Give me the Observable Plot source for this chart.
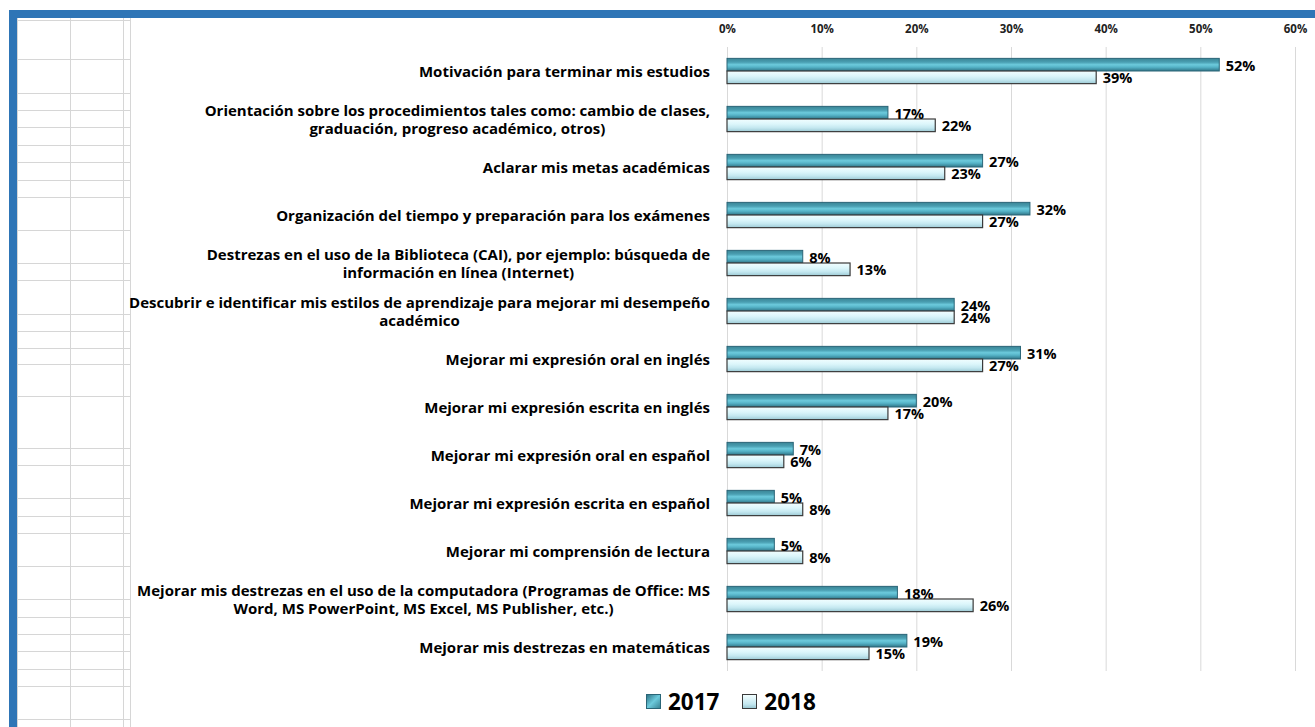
<!DOCTYPE html>
<html>
<head>
<meta charset="utf-8">
<script src="https://cdn.jsdelivr.net/npm/d3@7"></script>
<script src="https://cdn.jsdelivr.net/npm/@observablehq/plot@0.6"></script>
<style>
  html, body { margin: 0; padding: 0; background: #fff; }
  body { width: 1315px; height: 727px; position: relative; overflow: hidden; font-family: "Open Sans", Lato, sans-serif; }
  #chart { position: absolute; left: 0; top: 0; }
  .frame { position: absolute; background: #2e75b6; z-index: 5; }
  .gl { position: absolute; background: #d6d6d6; }
  .ylab { position: absolute; left: 0; width: 710px; text-align: right; font-weight: 700; font-size: 15px; line-height: 18px; color: #000; transform: translateY(-50%); }
  .ylab span { display: inline-block; text-align: center; white-space: pre; }
  #legend { position: absolute; top: 685px; left: 646px; font-weight: 700; font-size: 22.5px; color: #000; white-space: nowrap; }
  #legend .item { display: inline-flex; align-items: center; margin-right: 17px; }
  #legend .sw { width: 15px; height: 15px; margin-right: 7px; box-sizing: border-box; }
</style>
</head>
<body>
<div id="deco"></div>
<div id="chart"></div>
<div id="labels"></div>
<div id="legend"></div>
<script>
const categories = [
  "Motivación para terminar mis estudios",
  "Orientación sobre los procedimientos tales como: cambio de clases,\ngraduación, progreso académico, otros)",
  "Aclarar mis metas académicas",
  "Organización del tiempo y preparación para los exámenes",
  "Destrezas en el uso de la Biblioteca (CAI), por ejemplo: búsqueda de\ninformación en línea (Internet)",
  "Descubrir e identificar mis estilos de aprendizaje para mejorar mi desempeño\nacadémico",
  "Mejorar mi expresión oral en inglés",
  "Mejorar mi expresión escrita en inglés",
  "Mejorar mi expresión oral en español",
  "Mejorar mi expresión escrita en español",
  "Mejorar mi comprensión de lectura",
  "Mejorar mis destrezas en el uso de la computadora (Programas de Office: MS\nWord, MS PowerPoint, MS Excel, MS Publisher, etc.)",
  "Mejorar mis destrezas en matemáticas"
];
const years = ["2017", "2018"];
const values2017 = [52, 17, 27, 32, 8, 24, 31, 20, 7, 5, 5, 18, 19];
const values2018 = [39, 22, 23, 27, 13, 24, 27, 17, 6, 8, 8, 26, 15];
const tickValues = [0, 0.1, 0.2, 0.3, 0.4, 0.5, 0.6];

const data = categories.flatMap((c, i) => [
  {cat: c, year: years[0], value: values2017[i] / 100},
  {cat: c, year: years[1], value: values2018[i] / 100}
]);

// decorative frame & spreadsheet grid
const deco = document.getElementById("deco");
function addDiv(cls, l, t, w, h) {
  const d = document.createElement("div");
  d.className = cls;
  Object.assign(d.style, {left: l + "px", top: t + "px", width: w + "px", height: h + "px"});
  deco.appendChild(d);
}
addDiv("frame", 9, 10, 1306, 8);
addDiv("frame", 9, 10, 8, 717);
[17, 70, 123, 130].forEach(x => addDiv("gl", x, 18, 1, 709));
[20, 59, 93, 110, 127, 145, 162, 180, 197, 230, 263, 280, 314, 331, 348, 364, 396, 448, 465, 498, 516, 533, 566, 599, 617, 634, 651, 669, 686, 719]
  .forEach(y => addDiv("gl", 17, y, 114, 1));

const defs = () => {
  const d = d3.create("svg:defs");
  const g1 = d.append("linearGradient").attr("id", "g17").attr("x1", 0).attr("y1", 0).attr("x2", 0).attr("y2", 1);
  [[0, "#3a8596"], [0.3, "#4a9fb2"], [0.5, "#6ccadc"], [0.7, "#55b3c7"], [1, "#2f7587"]]
    .forEach(([o, c]) => g1.append("stop").attr("offset", o).attr("stop-color", c));
  const g2 = d.append("linearGradient").attr("id", "g18").attr("x1", 0).attr("y1", 0).attr("x2", 0).attr("y2", 1);
  [[0, "#f2feff"], [0.4, "#dcf6fb"], [0.7, "#c4e8f0"], [1, "#9cc9d4"]]
    .forEach(([o, c]) => g2.append("stop").attr("offset", o).attr("stop-color", c));
  return d.node();
};

const chart = Plot.plot({
  width: 1315,
  height: 683,
  marginLeft: 727,
  marginRight: 20,
  marginTop: 47,
  marginBottom: 12,
  style: {background: "transparent", fontFamily: "'Open Sans', Lato, sans-serif"},
  x: {domain: [0, 0.6]},
  fy: {domain: categories, padding: 0, round: false, axis: null},
  y: {domain: years, paddingInner: 0, paddingOuter: 0.9, round: false, axis: null},
  marks: [
    defs,
    Plot.gridX(tickValues, {stroke: "#d9d9d9", strokeOpacity: 1}),
    Plot.axisX(tickValues, {anchor: "top", tickSize: 0, tickPadding: 15, label: null,
      tickFormat: d => Math.round(d * 100) + "%", fontWeight: "bold", fontSize: 11.5, fill: "#222"}),
    Plot.barX(data.filter(d => d.year === years[0]), {fy: "cat", y: "year", x: "value", fill: "url(#g17)", stroke: "#2a6577", strokeWidth: 1}),
    Plot.barX(data.filter(d => d.year === years[1]), {fy: "cat", y: "year", x: "value", fill: "url(#g18)", stroke: "#3a3a3a", strokeWidth: 1.2}),
    Plot.text(data, {fy: "cat", y: "year", x: "value", text: d => Math.round(d.value * 100) + "%",
      textAnchor: "start", dx: 6, dy: 1, fontWeight: "bold", fontSize: 14.5, fill: "#000"})
  ]
});
document.getElementById("chart").appendChild(chart);

// category labels positioned with the fy scale
const fy = chart.scale("fy");
const labels = document.getElementById("labels");
categories.forEach(c => {
  const d = document.createElement("div");
  d.className = "ylab";
  d.style.top = (fy.apply(c) + fy.bandwidth / 2) + "px";
  const s = document.createElement("span");
  s.textContent = c;
  d.appendChild(s);
  labels.appendChild(d);
});

// legend
const legend = document.getElementById("legend");
legend.innerHTML = `
  <span class="item"><span class="sw" style="background:linear-gradient(135deg,#2f7587,#6ccadc 50%,#3a8596);border:1px solid #2a6577"></span>${years[0]}</span>
  <span class="item"><span class="sw" style="background:linear-gradient(180deg,#f2feff,#c4e8f0 70%,#9cc9d4);border:1px solid #3a3a3a"></span>${years[1]}</span>`;
</script>
</body>
</html>
